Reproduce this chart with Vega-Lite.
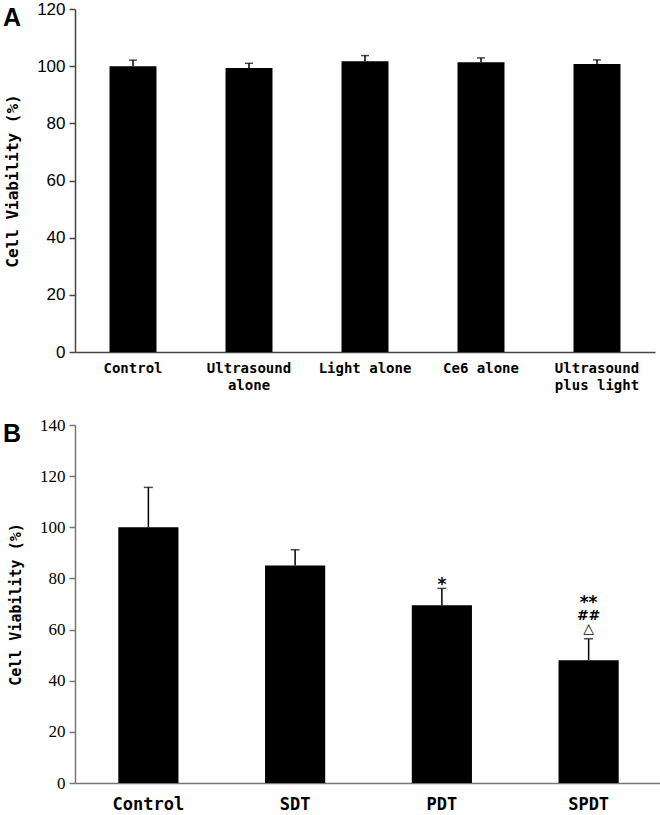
{
  "$schema": "https://vega.github.io/schema/vega-lite/v6.json",
  "padding": {"left": 3, "top": 0, "right": 0, "bottom": 0},
  "background": "white",
  "config": {"view": {"stroke": null}, "axis": {"grid": false}},
  "bounds": "flush",
  "spacing": 73,
  "datasets": {
    "a": [
      {"group": "Control", "mean": 100, "upper": 102.1},
      {"group": "Ultrasound alone", "mean": 99.4, "upper": 101.0},
      {"group": "Light alone", "mean": 101.7, "upper": 103.7},
      {"group": "Ce6 alone", "mean": 101.4, "upper": 102.9},
      {"group": "Ultrasound plus light", "mean": 100.8, "upper": 102.2}
    ],
    "b": [
      {"group": "Control", "mean": 100, "upper": 115.6, "sigA": "", "sig1": "", "sig2": "", "sig3": ""},
      {"group": "SDT", "mean": 85.1, "upper": 91.2, "sigA": "", "sig1": "", "sig2": "", "sig3": ""},
      {"group": "PDT", "mean": 69.5, "upper": 76.1, "sigA": "*", "sig1": "", "sig2": "", "sig3": ""},
      {"group": "SPDT", "mean": 48.0, "upper": 56.4, "sigA": "", "sig1": "**", "sig2": "##", "sig3": "△"}
    ]
  },
  "vconcat": [
    {
      "width": 580,
      "height": 343,
      "data": {"name": "a"},
      "title": {"text": "A", "anchor": "start", "frame": "group", "orient": "top", "offset": -18, "dy": 33, "baseline": "alphabetic", "dx": -72, "font": "Liberation Sans", "fontSize": 25, "fontWeight": "bold", "color": "black"},
      "encoding": {
        "x": {
          "field": "group", "type": "nominal", "sort": null, "title": null,
          "scale": {"paddingInner": 0.595, "paddingOuter": 0.2975},
          "axis": {
            "labelAngle": 0, "ticks": false, "labelPadding": 9,
            "labelFont": "DejaVu Sans Mono", "labelFontWeight": "bold", "labelFontSize": 14,
            "labelLineHeight": 17, "labelColor": "black", "labelBaseline": "top",
            "domainColor": "#444", "domainWidth": 1.5,
            "labelExpr": "datum.label == 'Ultrasound alone' ? ['Ultrasound','alone'] : datum.label == 'Ultrasound plus light' ? ['Ultrasound','plus light'] : datum.label"
          }
        }
      },
      "layer": [
        {
          "mark": {"type": "bar", "color": "black"},
          "encoding": {
            "y": {
              "field": "mean", "type": "quantitative", "title": "Cell Viability (%)",
              "scale": {"domain": [0, 120]},
              "axis": {
                "values": [0, 20, 40, 60, 80, 100, 120],
                "labelFont": "Liberation Sans", "labelFontSize": 17, "labelColor": "black",
                "tickSize": 6, "tickColor": "#444", "tickWidth": 1.5, "labelPadding": 4,
                "domainColor": "#444", "domainWidth": 1.5,
                "titleFont": "DejaVu Sans Mono", "titleFontWeight": "bold", "titleFontSize": 16,
                "titleColor": "black", "titlePadding": 16
              }
            }
          }
        },
        {
          "mark": {"type": "rule", "color": "black", "strokeWidth": 1.5},
          "encoding": {
            "y": {"field": "mean", "type": "quantitative", "title": "Cell Viability (%)"},
            "y2": {"field": "upper"}
          }
        },
        {
          "mark": {"type": "tick", "color": "black", "thickness": 1.5, "size": 8, "orient": "horizontal"},
          "encoding": {
            "y": {"field": "upper", "type": "quantitative", "title": "Cell Viability (%)"}
          }
        }
      ]
    },
    {
      "width": 587,
      "height": 358,
      "data": {"name": "b"},
      "title": {"text": "B", "anchor": "start", "frame": "group", "orient": "top", "offset": -18, "dy": 33, "baseline": "alphabetic", "dx": -72, "font": "Liberation Sans", "fontSize": 25, "fontWeight": "bold", "color": "black"},
      "encoding": {
        "x": {
          "field": "group", "type": "nominal", "sort": null, "title": null,
          "scale": {"paddingInner": 0.59, "paddingOuter": 0.295},
          "axis": {
            "labelAngle": 0, "ticks": false, "labelPadding": 13,
            "labelFont": "DejaVu Sans Mono", "labelFontWeight": "bold", "labelFontSize": 17,
            "labelColor": "black", "labelBaseline": "top",
            "domainColor": "#777", "domainWidth": 1.5
          }
        }
      },
      "layer": [
        {
          "mark": {"type": "bar", "color": "black"},
          "encoding": {
            "y": {
              "field": "mean", "type": "quantitative", "title": "Cell Viability (%)",
              "scale": {"domain": [0, 140]},
              "axis": {
                "values": [0, 20, 40, 60, 80, 100, 120, 140],
                "labelFont": "Liberation Serif", "labelFontSize": 17, "labelColor": "black",
                "tickSize": 6, "tickColor": "#777", "tickWidth": 1.5, "labelPadding": 4,
                "domainColor": "#777", "domainWidth": 1.5,
                "titleFont": "DejaVu Sans Mono", "titleFontWeight": "bold", "titleFontSize": 15,
                "titleColor": "black", "titlePadding": 16
              }
            }
          }
        },
        {
          "mark": {"type": "rule", "color": "black", "strokeWidth": 1.5},
          "encoding": {
            "y": {"field": "mean", "type": "quantitative", "title": "Cell Viability (%)"},
            "y2": {"field": "upper"}
          }
        },
        {
          "mark": {"type": "tick", "color": "black", "thickness": 1.5, "size": 9, "orient": "horizontal"},
          "encoding": {
            "y": {"field": "upper", "type": "quantitative", "title": "Cell Viability (%)"}
          }
        },
        {
          "mark": {"type": "text", "color": "black", "font": "DejaVu Sans", "fontWeight": "bold", "fontSize": 17, "baseline": "middle", "dy": -3},
          "encoding": {
            "y": {"field": "upper", "type": "quantitative", "title": "Cell Viability (%)"},
            "text": {"field": "sigA"}
          }
        },
        {
          "mark": {"type": "text", "color": "black", "font": "DejaVu Sans", "fontWeight": "bold", "fontSize": 17, "baseline": "middle", "dy": -36},
          "encoding": {
            "y": {"field": "upper", "type": "quantitative", "title": "Cell Viability (%)"},
            "text": {"field": "sig1"}
          }
        },
        {
          "mark": {"type": "text", "color": "black", "font": "DejaVu Sans", "fontWeight": "bold", "fontSize": 14, "baseline": "middle", "dy": -23},
          "encoding": {
            "y": {"field": "upper", "type": "quantitative", "title": "Cell Viability (%)"},
            "text": {"field": "sig2"}
          }
        },
        {
          "mark": {"type": "text", "color": "black", "font": "DejaVu Sans", "fontSize": 14, "baseline": "middle", "dy": -10},
          "encoding": {
            "y": {"field": "upper", "type": "quantitative", "title": "Cell Viability (%)"},
            "text": {"field": "sig3"}
          }
        }
      ]
    }
  ]
}
